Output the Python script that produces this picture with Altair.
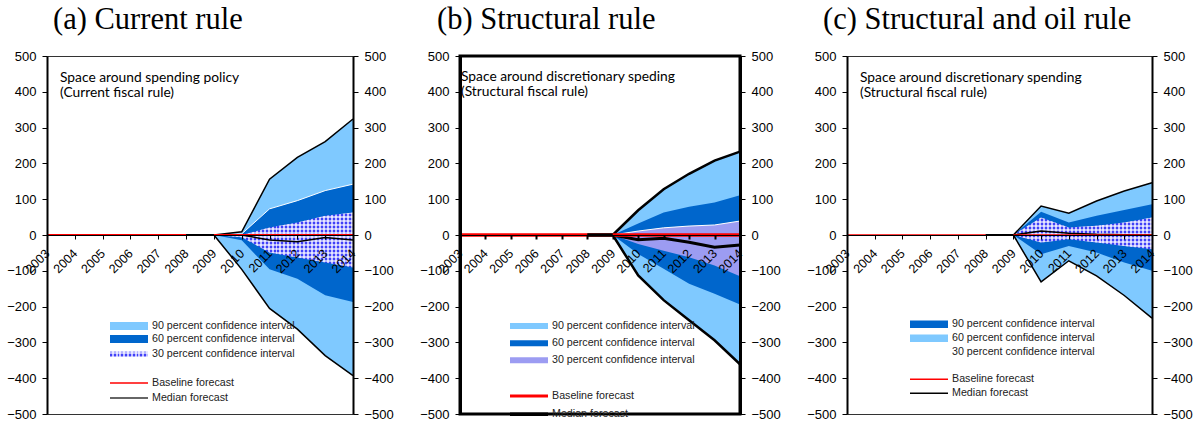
import altair as alt
import pandas as pd

# ---------------- data ----------------
years = [2003, 2004, 2005, 2006, 2007, 2008, 2009, 2010, 2011, 2012, 2013, 2014]
fc_years = [2009, 2010, 2011, 2012, 2013, 2014]
hist_years = [2008, 2009]
hist_vals = [0, 0]
baseline_vals = [0, 0, 0, 0, 0, 0, 0, 0, 0, 0, 0, 0]
y_ticks = [-500, -400, -300, -200, -100, 0, 100, 200, 300, 400, 500]

titles = ["(a) Current rule", "(b) Structural rule", "(c) Structural and oil rule"]
notes = [
    ["Space around  spending policy", "(Current fiscal rule)"],
    ["Space around  discretionary speding", "(Structural fiscal rule)"],
    ["Space around  discretionary spending", "(Structural fiscal rule)"],
]

# panel (a) current rule
a_hi90 = [0, 9, 156, 217, 261, 324]
a_hi60 = [0, 3, 73, 96, 124, 142]
a_hi30 = [0, 0, 21, 35, 54, 63]
a_lo30 = [0, -6, -49, -63, -77, -91]
a_lo60 = [0, -15, -96, -122, -168, -187]
a_lo90 = [0, -96, -205, -263, -337, -393]
a_med = [0, 0, -14, -19, -7, -14]

# panel (b) structural rule
b_hi90 = [0, 69, 128, 171, 208, 233]
b_hi60 = [0, 32, 63, 79, 91, 111]
b_hi30 = [0, 11, 20, 25, 28, 39]
b_lo30 = [0, -25, -44, -62, -85, -115]
b_lo60 = [0, -53, -94, -136, -164, -194]
b_lo90 = [0, -113, -182, -238, -294, -361]
b_med = [0, -13, -9, -20, -34, -28]

# panel (c) structural and oil rule
c_hi90 = [0, 81, 61, 95, 123, 146]
c_hi60 = [0, 65, 35, 54, 70, 86]
c_hi30 = [0, 49, 21, 26, 35, 49]
c_lo30 = [0, -21, -12, -21, -31, -40]
c_lo60 = [0, -54, -31, -49, -77, -100]
c_lo90 = [0, -131, -72, -114, -169, -232]
c_med = [0, 11, 5, 2, 1, 0]

legend_labels = ["90 percent confidence interval", "60 percent confidence interval",
                 "30 percent confidence interval", "Baseline forecast", "Median forecast"]

# ---------------- styles ----------------
LIGHT = "#7FC9FF"
DARK = "#0066CC"
DOTS = "#9C9CF2"
RED = "#FF0000"
H = 358
WIDTHS = [306, 280, 305]
AXFONT = "Liberation Sans"


def stripes(c1, c2, n, vertical):
    stops = []
    for k in range(n):
        a, m, e = k / n, (k + 0.5) / n, (k + 1) / n
        stops += [alt.GradientStop(offset=a, color=c1), alt.GradientStop(offset=m, color=c1),
                  alt.GradientStop(offset=m, color=c2), alt.GradientStop(offset=e, color=c2)]
    if vertical:
        return alt.LinearGradient(gradient="linear", stops=stops, x1=0, x2=1, y1=0, y2=0)
    return alt.LinearGradient(gradient="linear", stops=stops, x1=0, x2=0, y1=0, y2=1)


def hatch_pair(nx, ny):
    return (stripes("#4040F8", "#C0C0FF", nx, True),
            stripes("rgba(255,255,255,0.6)", "rgba(255,255,255,0)", ny, False))


def make_panel(i, hi90, hi60, hi30, lo30, lo60, lo90, med, st):
    df = pd.DataFrame({"year": fc_years, "hi90": hi90, "hi60": hi60, "hi30": hi30,
                       "lo30": lo30, "lo60": lo60, "lo90": lo90})
    med_df = pd.DataFrame({"year": fc_years, "v": med})
    base_df = pd.DataFrame({"year": years, "v": baseline_vals})
    hist_df = pd.DataFrame({"year": hist_years, "v": hist_vals})

    xaxis = alt.Axis(values=years, format="d", labelAngle=-45, labelAlign="right",
                     labelBaseline="middle", labelPadding=12, offset=-H / 2,
                     grid=False, title=None, domainColor="black", domainWidth=1,
                     tickColor="black", tickSize=4, tickWidth=st["tw"],
                     labelFont=AXFONT, labelFontSize=12.5, labelColor="black",
                     labelFlush=False, labelOverlap=False, zindex=2)
    xsc = alt.Scale(domain=[2003, 2014], nice=False, zero=False)
    X = alt.X("year:Q", scale=xsc, axis=xaxis)
    ysc = alt.Scale(domain=[-500, 500], nice=False)

    def yaxis(orient):
        return alt.Axis(orient=orient, values=y_ticks, grid=False, title=None,
                        domainColor="black", domainWidth=st["dw"], tickColor="black",
                        tickSize=5, tickWidth=1, labelPadding=6, labelFont=AXFONT,
                        labelFontSize=13, labelColor="black", zindex=2)

    b = alt.Chart(df)
    layers = [
        b.mark_area(color=LIGHT, opacity=1).encode(
            x=X, y=alt.Y("lo90:Q", scale=ysc, axis=yaxis("left")), y2="hi90:Q"),
        b.mark_area(color=DARK, opacity=1).encode(
            x=X, y=alt.Y("lo60:Q", scale=ysc, axis=None), y2="hi60:Q"),
    ]
    if st["hatch"]:
        # checkered fill of the 30 percent band
        w_px = WIDTHS[i] * (fc_years[-1] - fc_years[0]) / (years[-1] - years[0])
        h_px = (max(hi30) - min(lo30)) * H / 1000
        g1, g2 = hatch_pair(max(1, round(w_px / 4)), max(1, round(h_px / 4)))
        layers.append(b.mark_area(color=g1).encode(
            x=X, y=alt.Y("lo30:Q", scale=ysc, axis=None), y2="hi30:Q"))
        layers.append(b.mark_area(color=g2).encode(
            x=X, y=alt.Y("lo30:Q", scale=ysc, axis=None), y2="hi30:Q"))
    else:
        layers.append(b.mark_area(color=DOTS, opacity=1).encode(
            x=X, y=alt.Y("lo30:Q", scale=ysc, axis=None), y2="hi30:Q"))
    if st.get("white"):
        layers.append(b.mark_line(color="white", strokeWidth=1).encode(
            x=X, y=alt.Y(st["white"] + ":Q", scale=ysc, axis=None)))
    layers += [
        b.mark_line(color="black", strokeWidth=st["ow"]).encode(
            x=X, y=alt.Y("hi90:Q", scale=ysc, axis=None)),
        b.mark_line(color="black", strokeWidth=st["ow"]).encode(
            x=X, y=alt.Y("lo90:Q", scale=ysc, axis=None)),
        alt.Chart(med_df).mark_line(color="black", strokeWidth=st["mw"]).encode(
            x=X, y=alt.Y("v:Q", scale=ysc, axis=None)),
        alt.Chart(base_df).mark_line(color=RED, strokeWidth=st["rw"]).encode(
            x=X, y=alt.Y("v:Q", scale=ysc, axis=yaxis("right"))),
        alt.Chart(hist_df).mark_line(color="black", strokeWidth=st["hw"]).encode(
            x=X, y=alt.Y("v:Q", scale=ysc, axis=None)),
    ]

    one = pd.DataFrame({"k": [0]})
    # title
    layers.append(alt.Chart(one).mark_text(
        font="Liberation Serif", fontSize=30.5, align="left", baseline="alphabetic",
        color="black").encode(x=alt.value(st["tx"]), y=alt.value(-27.5),
                              text=alt.value(titles[i])))
    # annotation
    for j, line in enumerate(notes[i]):
        layers.append(alt.Chart(one).mark_text(
            font="Lato", fontSize=13.8, align="left", baseline="middle",
            color="black").encode(x=alt.value(st["nx"]), y=alt.value(st["ny"][j]),
                                  text=alt.value(line)))
    # legend
    lx0, lx1, ltx = st["lx"]
    for j, lab in enumerate(legend_labels):
        yc = st["ly"][j]
        kind = st["lk"][j]
        if kind[0] == "rect":
            layers.append(alt.Chart(one).mark_rect(color=kind[1]).encode(
                x=alt.value(lx0), x2=alt.value(lx1),
                y=alt.value(yc - kind[2] / 2), y2=alt.value(yc + kind[2] / 2)))
        elif kind[0] == "hatch":
            g1, g2 = hatch_pair(10, 1)
            for g in (g1, g2):
                layers.append(alt.Chart(one).mark_rect(color=g).encode(
                    x=alt.value(lx0), x2=alt.value(lx1),
                    y=alt.value(yc - kind[2] / 2), y2=alt.value(yc + kind[2] / 2)))
        elif kind[0] == "line":
            layers.append(alt.Chart(one).mark_rule(color=kind[1], strokeWidth=kind[2]).encode(
                x=alt.value(lx0), x2=alt.value(lx1), y=alt.value(yc)))
        layers.append(alt.Chart(one).mark_text(
            font=AXFONT, fontSize=10.7, align="left", baseline="middle",
            color="#222222").encode(x=alt.value(ltx), y=alt.value(yc), text=alt.value(lab)))

    return alt.layer(*layers).resolve_axis(y="independent").properties(
        width=WIDTHS[i], height=H,
        view=alt.ViewBackground(stroke=st["frame"], strokeWidth=st["fw"]))


st_a = dict(hatch=True, white="hi60", ow=1.5, mw=1.5, rw=2, hw=2, tw=1, dw=2,
            frame="#333333", fw=1, tx=6, nx=13, ny=[21.7, 37.3],
            lx=(63, 101, 105), ly=[270, 283, 298, 327, 342],
            lk=[("rect", LIGHT, 8), ("rect", DARK, 8), ("hatch", None, 5),
                ("line", RED, 1.5), ("line", "#333333", 1.5)])
st_b = dict(hatch=False, white="hi30", ow=2.5, mw=3, rw=3.5, hw=3.5, tw=2, dw=3,
            frame="black", fw=3, tx=-23, nx=1, ny=[21, 36],
            lx=(50, 88, 92), ly=[270, 287.3, 304.3, 340, 358.3],
            lk=[("rect", LIGHT, 6), ("rect", DARK, 6), ("rect", DOTS, 6),
                ("line", RED, 3), ("line", "black", 3.5)])
st_c = dict(hatch=True, white=None, ow=1.5, mw=1.5, rw=1.5, hw=2, tw=1, dw=2,
            frame="#333333", fw=1, tx=-24, nx=13, ny=[21.7, 37],
            lx=(63, 101, 105), ly=[268.3, 282.3, 296.3, 323.3, 337.3],
            lk=[("rect", DARK, 7.5), ("rect", LIGHT, 7.5), ("none", None, 0),
                ("line", RED, 1.5), ("line", "black", 1.5)])

pa = make_panel(0, a_hi90, a_hi60, a_hi30, a_lo30, a_lo60, a_lo90, a_med, st_a)
pb = make_panel(1, b_hi90, b_hi60, b_hi30, b_lo30, b_lo60, b_lo90, b_med, st_b)
pc = make_panel(2, c_hi90, c_hi60, c_hi30, c_lo30, c_lo60, c_lo90, c_med, st_c)

chart = alt.hconcat(pa, pb, pc, spacing=24).properties(
    padding={"left": 6, "top": 3, "right": 2, "bottom": 3},
    background="white",
).configure_view(stroke="#333333")

chart.save("out.html", embed_options={"renderer": "svg", "actions": False})
